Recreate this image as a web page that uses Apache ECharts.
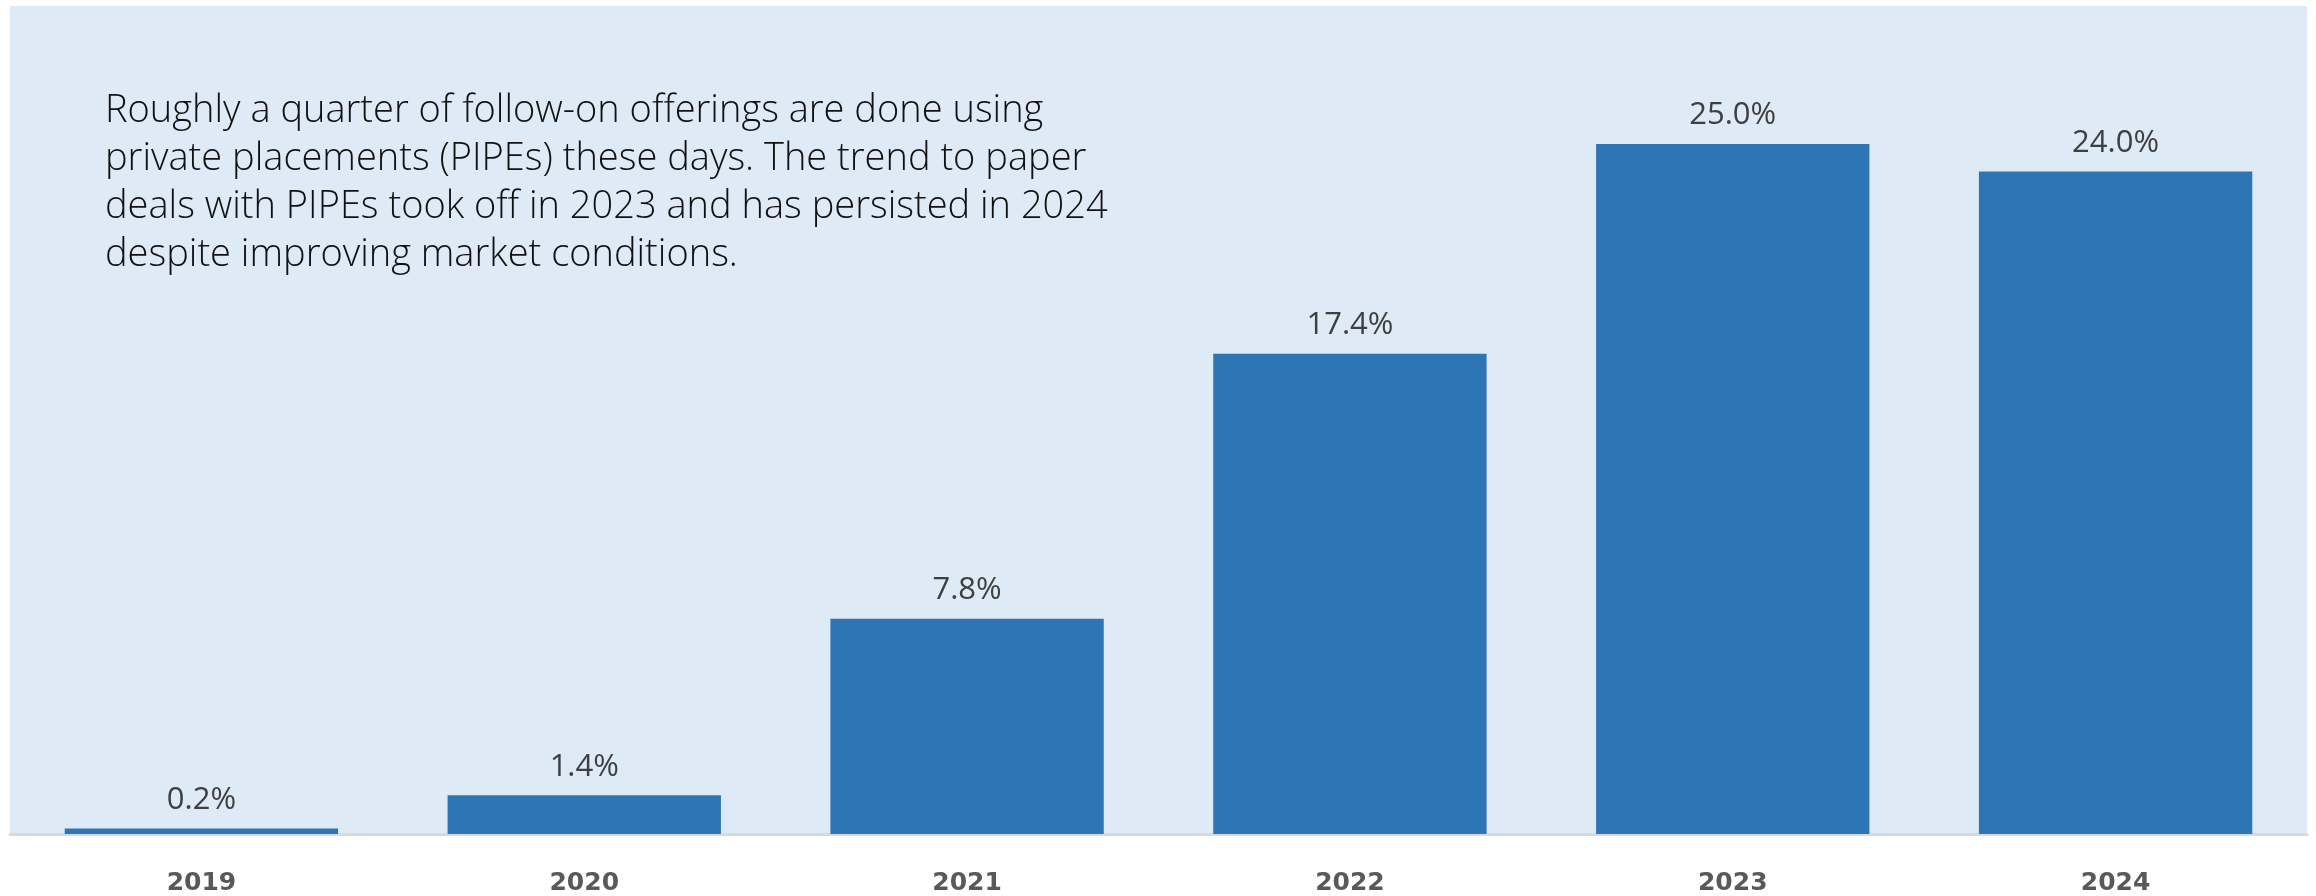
<!DOCTYPE html>
<html>
<head>
<meta charset="utf-8">
<script src="https://cdn.jsdelivr.net/npm/echarts@6/dist/echarts.min.js"></script>
<style>
  html, body { margin: 0; padding: 0; background: #ffffff; }
  #chart { width: 2316px; height: 896px; }
</style>
</head>
<body>
<div id="chart"></div>
<script>
// Share of follow-on offerings done as PIPEs, by year (%)
const years = ['2019', '2020', '2021', '2022', '2023', '2024'];
const pipeShare = [0.2, 1.4, 7.8, 17.4, 25.0, 24.0];
const note = [
  'Roughly a quarter of follow-on offerings are done using',
  'private placements (PIPEs) these days. The trend to paper',
  'deals with PIPEs took off in 2023 and has persisted in 2024',
  'despite improving market conditions.'
];

const chart = echarts.init(document.getElementById('chart'), null, { renderer: 'canvas' });

chart.setOption({
  animation: false,
  backgroundColor: '#ffffff',
  title: {
    text: note.join('\n'),
    left: 105,
    top: 87,
    padding: 0,
    textStyle: {
      fontFamily: '"Open Sans", "Noto Sans", sans-serif',
      fontWeight: 300,
      fontSize: 38,
      lineHeight: 48,
      color: '#111111'
    }
  },
  grid: {
    left: 10,
    right: 9,
    top: 6,
    bottom: 62,
    show: true,
    backgroundColor: '#deeaf6',
    borderWidth: 0
  },
  xAxis: {
    type: 'category',
    data: years,
    axisLine: { show: true, lineStyle: { color: '#d9d9d9', width: 3 } },
    axisTick: { show: false },
    axisLabel: {
      margin: 37,
      fontFamily: '"DejaVu Sans", sans-serif',
      fontWeight: 'bold',
      fontSize: 25,
      color: '#595959'
    }
  },
  yAxis: {
    type: 'value',
    min: 0,
    max: 30,
    show: false,
    splitLine: { show: false }
  },
  series: [{
    type: 'bar',
    data: pipeShare,
    barCategoryGap: '28.6%',
    itemStyle: { color: '#2e75b6' },
    label: {
      show: true,
      position: 'top',
      distance: 13,
      formatter: (p) => p.value.toFixed(1) + '%',
      fontFamily: '"Open Sans", "Noto Sans", sans-serif',
      fontWeight: 400,
      fontSize: 31,
      color: '#3f3f3f'
    }
  }]
});
</script>
</body>
</html>
